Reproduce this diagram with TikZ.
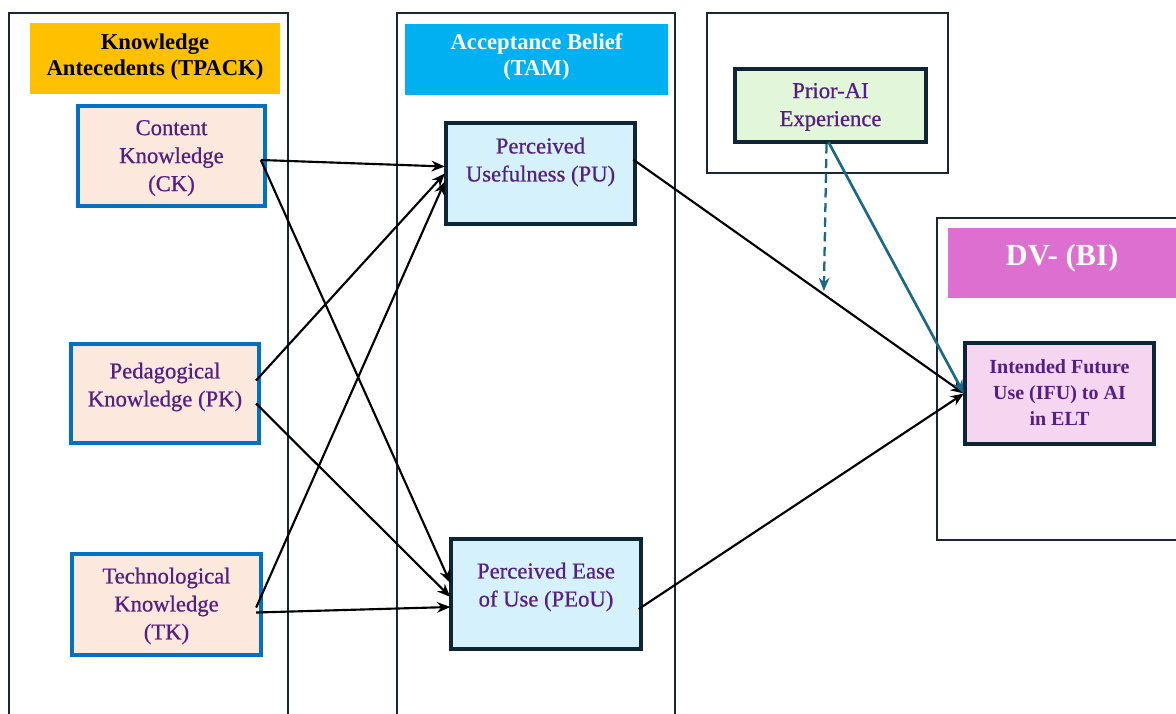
\documentclass[tikz,border=0pt]{standalone}
\usepackage{fontspec}
\setmainfont{Liberation Serif}
\newfontfamily\boxfont[FakeBold=0.7]{Liberation Serif}
\usetikzlibrary{arrows.meta,calc}
\definecolor{panelc}{RGB}{25,38,52}
\definecolor{hyellow}{RGB}{255,192,0}
\definecolor{hcyan}{RGB}{0,176,240}
\definecolor{hmag}{RGB}{221,111,209}
\definecolor{peach}{RGB}{252,232,220}
\definecolor{kblue}{RGB}{0,112,192}
\definecolor{darkb}{RGB}{14,37,54}
\definecolor{lblue}{RGB}{213,241,251}
\definecolor{lgreen}{RGB}{226,246,217}
\definecolor{lpink}{RGB}{246,213,240}
\definecolor{purp}{RGB}{85,30,130}
\definecolor{teal}{RGB}{27,104,134}
\begin{document}
\begin{tikzpicture}[x=0.75pt,y=-0.75pt,
  panel/.style={draw=panelc, line width=1.1pt},
  hdr/.style={draw=none, inner sep=0pt, outer sep=0pt},
  kbox/.style={draw=kblue, line width=2.6pt, fill=peach, inner sep=0pt, outer sep=0pt},
  dbox/.style={draw=darkb, line width=3pt, inner sep=0pt, outer sep=0pt},
  txt/.style={text=purp, align=center, font=\boxfont\fontsize{17}{21}\selectfont, inner sep=0pt},
  htxt/.style={align=center, font=\bfseries\fontsize{17}{19.5}\selectfont, inner sep=0pt},
  arr/.style={-{Stealth[length=10pt,width=8pt]}, line width=1.6pt, black},
  tarr/.style={-{Stealth[length=10pt,width=8pt]}, line width=2pt, teal}]
\useasboundingbox (0,0) rectangle (1176,713);
\clip (0,0) rectangle (1176,713);
% panels
\draw[panel] (9,720) -- (9,13) -- (288,13) -- (288,720);
\draw[panel] (397,720) -- (397,13) -- (675,13) -- (675,720);
\draw[panel] (707,13) rectangle (948,173);
\draw[panel] (1190,218) -- (937,218) -- (937,540) -- (1190,540);
% headers
\node[hdr, fill=hyellow, minimum width=187.5pt, minimum height=53.25pt] (hK) at (155,58.5) {};
\node[htxt] (hKt) at (155,57) {Knowledge\\Antecedents (TPACK)};
\node[hdr, fill=hcyan, minimum width=197pt, minimum height=53.25pt] (hA) at (536.5,59.5) {};
\node[htxt, text=white] (hAt) at (536.5,57) {Acceptance Belief\\(TAM)};
\node[hdr, fill=hmag, minimum width=190pt, minimum height=52.5pt] (hD) at (1075,263) {};
\node[htxt, text=white, font=\bfseries\fontsize{23}{27}\selectfont] (hDt) at (1062,258) {DV- (BI)};
% knowledge boxes
\node[kbox, minimum width=140pt, minimum height=75pt] (CK) at (171.5,156) {};
\node[txt] (CKt) at (171.5,158) {Content\\Knowledge\\(CK)};
\node[kbox, minimum width=141pt, minimum height=74pt] (PK) at (165,393.5) {};
\node[txt] (PKt) at (165,387) {Pedagogical\\Knowledge (PK)};
\node[kbox, minimum width=142pt, minimum height=76pt] (TK) at (166.5,604.5) {};
\node[txt] (TKt) at (166.5,606) {Technological\\Knowledge\\(TK)};
% TAM boxes
\node[dbox, fill=lblue, minimum width=142pt, minimum height=76pt] (PU) at (540.5,173.5) {};
\node[txt] (PUt) at (540.5,162) {Perceived\\Usefulness (PU)};
\node[dbox, fill=lblue, minimum width=142pt, minimum height=82.5pt] (PE) at (546,594) {};
\node[txt] (PEt) at (546,587) {Perceived Ease\\of Use (PEoU)};
% prior AI
\node[dbox, fill=lgreen, minimum width=143pt, minimum height=55pt] (PA) at (830.5,105.5) {};
\node[txt] (PAt) at (830.5,107) {Prior-AI\\Experience};
% IFU
\node[dbox, fill=lpink, minimum width=142pt, minimum height=76pt] (IFU) at (1059.5,393.5) {};
\node[txt, font=\bfseries\fontsize{15}{19.5}\selectfont] (IFUt) at (1059.5,393) {Intended Future\\Use (IFU) to AI\\in ELT};
% arrows
\draw[arr] ($(CK.east)+(-4,4)$) -- ($(PU.west)+(-1,-7)$);
\draw[arr] ($(CK.east)+(-4,4)$) -- ($(PE.west)+(-1,-11)$);
\draw[arr] ($(PK.east)+(-3,-13)$) -- ($(PU.west)+(-1,0)$);
\draw[arr] ($(PK.east)+(-3,10)$) -- ($(PE.west)+(-1,3)$);
\draw[arr] ($(TK.east)+(-5,3)$) -- ($(PU.west)+(-1,8)$);
\draw[arr] ($(TK.east)+(-5,8)$) -- ($(PE.west)+(-1,13)$);
\coordinate (PUo) at ($(PU.east)+(-2,-14)$);
\draw[arr] (PUo) -- ($(IFU.west)+(-1,0)$);
\draw[arr] ($(PE.east)+(-2,15)$) -- ($(IFU.west)+(-1,0)$);
\draw[tarr] ($(PA.south)+(-2,0)$) -- ($(IFU.west)+(-1,0)$);
\coordinate (mod) at ($(PUo)!0.575!(IFU.west)$);
\draw[tarr, dashed, dash pattern=on 7pt off 4pt, line width=1.7pt] ($(PA.south)+(-4,2)$) -- ($(mod)+(0,-3)$);
\end{tikzpicture}
\end{document}
